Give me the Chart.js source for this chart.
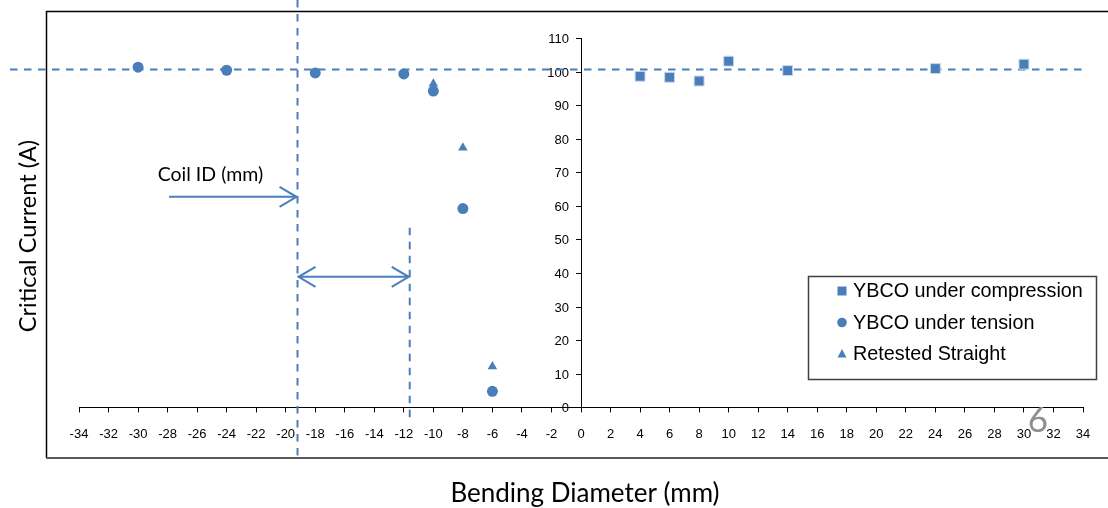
<!DOCTYPE html>
<html>
<head>
<meta charset="utf-8">
<script src="https://cdn.jsdelivr.net/npm/chart.js@4.4.1/dist/chart.umd.min.js"></script>
<style>
  html, body { margin: 0; padding: 0; background: #fff; }
  #wrap { width: 1108px; height: 508px; }
</style>
</head>
<body>
<div id="wrap"><canvas id="icChart" width="1108" height="508"></canvas></div>
<script>
// bending diameter (mm): negative = tension side, positive = compression side
const compressionX = [4, 6, 8, 10, 14, 24, 30];
const compressionIc = [98.6, 98.3, 97.2, 103.1, 100.3, 100.9, 102.2];
const tensionX = [-30, -24, -18, -12, -10, -8, -6];
const tensionIc = [101.3, 100.4, 99.6, 99.3, 94.2, 59.2, 4.8];
const retestX = [-10, -8, -6];
const retestIc = [96.4, 77.3, 12.2];

const xTickValues = [-34, -32, -30, -28, -26, -24, -22, -20, -18, -16, -14, -12, -10, -8, -6, -4, -2,
  0, 2, 4, 6, 8, 10, 12, 14, 16, 18, 20, 22, 24, 26, 28, 30, 32, 34];
const yTickValues = [0, 10, 20, 30, 40, 50, 60, 70, 80, 90, 100, 110];

const seriesNames = ['YBCO under compression', 'YBCO under tension', 'Retested Straight'];

// annotation values (data units)
const refCurrent = 100.6;
const coilId = -19.2;
const innerId = -11.6;

const blue = '#4a7ebb';
const arial = '"Liberation Sans", Arial, sans-serif';
const calibri = 'Lato, "Open Sans", sans-serif';

function toPoints(xs, ys) {
  return xs.map((x, i) => ({ x: x, y: ys[i] }));
}

function chevron(ctx, x, y, dir) {
  ctx.beginPath();
  ctx.moveTo(x - dir * 17, y - 10);
  ctx.lineTo(x, y);
  ctx.lineTo(x - dir * 17, y + 10);
  ctx.stroke();
}

function drawMarker(ctx, style, x, y) {
  ctx.fillStyle = blue;
  ctx.beginPath();
  if (style === 'rect') {
    ctx.rect(x - 4.5, y - 4.5, 9, 9);
  } else if (style === 'circle') {
    ctx.arc(x, y, 4.8, 0, Math.PI * 2);
  } else {
    ctx.moveTo(x, y - 5);
    ctx.lineTo(x + 4.5, y + 3.5);
    ctx.lineTo(x - 4.5, y + 3.5);
    ctx.closePath();
  }
  ctx.fill();
}

const slidePlugin = {
  id: 'slide',
  beforeDatasetsDraw(chart) {
    const ctx = chart.ctx;
    const xs = chart.scales.x;
    const ys = chart.scales.y;
    const x0 = xs.getPixelForValue(0);

    ctx.save();
    // outer chart frame
    ctx.strokeStyle = '#000';
    ctx.lineWidth = 1.5;
    ctx.beginPath();
    ctx.moveTo(1112, 11.5);
    ctx.lineTo(46.5, 11.5);
    ctx.lineTo(46.5, 458);
    ctx.stroke();
    ctx.strokeStyle = '#5a5a5a';
    ctx.lineWidth = 2;
    ctx.beginPath();
    ctx.moveTo(46, 458);
    ctx.lineTo(1112, 458);
    ctx.stroke();

    // y axis through x = 0
    ctx.strokeStyle = '#000';
    ctx.lineWidth = 1;
    ctx.beginPath();
    ctx.moveTo(Math.round(x0) + 0.5, ys.getPixelForValue(110));
    ctx.lineTo(Math.round(x0) + 0.5, ys.getPixelForValue(0));
    ctx.stroke();
    ctx.font = '13px ' + arial;
    ctx.fillStyle = '#000';
    ctx.textAlign = 'right';
    ctx.textBaseline = 'middle';
    yTickValues.forEach(v => {
      const y = Math.round(ys.getPixelForValue(v)) + 0.5;
      ctx.beginPath();
      ctx.moveTo(x0 - 5, y);
      ctx.lineTo(x0, y);
      ctx.stroke();
      ctx.fillText(String(v), x0 - 12, y + 1);
    });

    // dashed guide lines
    ctx.strokeStyle = blue;
    ctx.lineWidth = 2;
    ctx.setLineDash([7.5, 6.5]);
    const yRef = ys.getPixelForValue(refCurrent);
    ctx.beginPath();
    ctx.moveTo(10, yRef);
    ctx.lineTo(xs.getPixelForValue(34), yRef);
    ctx.stroke();
    const xc = xs.getPixelForValue(coilId);
    ctx.beginPath();
    ctx.moveTo(xc, 0);
    ctx.lineTo(xc, 458);
    ctx.stroke();
    const xi = xs.getPixelForValue(innerId);
    ctx.beginPath();
    ctx.moveTo(xi, ys.getPixelForValue(53.5));
    ctx.lineTo(xi, ys.getPixelForValue(0) + 12);
    ctx.stroke();
    ctx.setLineDash([]);

    // arrows
    const yArrow = ys.getPixelForValue(62.7);
    ctx.beginPath();
    ctx.moveTo(xs.getPixelForValue(-27.9), yArrow);
    ctx.lineTo(xc - 1, yArrow);
    ctx.stroke();
    chevron(ctx, xc - 1, yArrow, 1);
    const yDouble = ys.getPixelForValue(38.9);
    ctx.beginPath();
    ctx.moveTo(xc + 1, yDouble);
    ctx.lineTo(xi - 1, yDouble);
    ctx.stroke();
    chevron(ctx, xc + 1, yDouble, -1);
    chevron(ctx, xi - 1, yDouble, 1);

    ctx.fillStyle = '#000';
    ctx.font = '19.5px ' + calibri;
    ctx.textAlign = 'center';
    ctx.textBaseline = 'middle';
    ctx.fillText('Coil ID (mm)', xs.getPixelForValue(-25.1), ys.getPixelForValue(69.3));

    // axis titles
    ctx.font = '26px ' + calibri;
    ctx.fillText('Bending Diameter (mm)', x0 + 4, 494);
    ctx.save();
    ctx.translate(28, 236);
    ctx.rotate(-Math.PI / 2);
    ctx.font = '23.5px ' + calibri;
    ctx.fillText('Critical Current (A)', 0, 0);
    ctx.restore();
    ctx.restore();
  },
  afterDatasetsDraw(chart) {
    const ctx = chart.ctx;
    ctx.save();
    ctx.fillStyle = '#fff';
    ctx.fillRect(808, 276, 289, 104);
    ctx.strokeStyle = '#404040';
    ctx.lineWidth = 1.5;
    ctx.strokeRect(808.5, 276.5, 288, 103);
    ctx.font = '19.8px ' + arial;
    ctx.textAlign = 'left';
    ctx.textBaseline = 'middle';
    chart.data.datasets.forEach((ds, i) => {
      const y = 291 + i * 31.5;
      drawMarker(ctx, ds.pointStyle, 842, y);
      ctx.fillStyle = '#000';
      ctx.fillText(ds.label, 853, y + 1);
    });

    // slide number, sits on top of the chart image
    ctx.fillStyle = '#8f8f8f';
    ctx.font = '35px ' + calibri;
    ctx.textAlign = 'center';
    ctx.fillText('6', 1038, 421);
    ctx.restore();
  }
};

new Chart(document.getElementById('icChart'), {
  type: 'scatter',
  data: {
    datasets: [
      {
        label: seriesNames[0],
        data: toPoints(compressionX, compressionIc),
        pointStyle: 'rect',
        pointRadius: 7,
        backgroundColor: blue,
        borderColor: '#c9d8ec',
        borderWidth: 1
      },
      {
        label: seriesNames[1],
        data: toPoints(tensionX, tensionIc),
        pointStyle: 'circle',
        pointRadius: 5.5,
        backgroundColor: blue,
        borderColor: blue,
        borderWidth: 0
      },
      {
        label: seriesNames[2],
        data: toPoints(retestX, retestIc),
        pointStyle: 'triangle',
        pointRadius: 5.5,
        backgroundColor: blue,
        borderColor: blue,
        borderWidth: 0
      }
    ]
  },
  options: {
    responsive: false,
    animation: false,
    events: [],
    layout: {
      padding: { left: 79, right: 25, top: 38, bottom: 52 }
    },
    scales: {
      x: {
        type: 'linear',
        min: -34,
        max: 34,
        afterBuildTicks: function(scale) {
          scale.ticks = xTickValues.map(v => ({ value: v }));
        },
        grid: {
          drawOnChartArea: false,
          drawTicks: true,
          tickLength: 5,
          color: '#000'
        },
        border: { display: true, color: '#000', width: 1 },
        ticks: {
          autoSkip: false,
          maxRotation: 0,
          padding: 14,
          color: '#000',
          font: { family: arial, size: 13 }
        }
      },
      y: {
        type: 'linear',
        min: 0,
        max: 110,
        display: false
      }
    },
    plugins: {
      legend: { display: false },
      tooltip: { enabled: false }
    }
  },
  plugins: [slidePlugin]
});
</script>
</body>
</html>
